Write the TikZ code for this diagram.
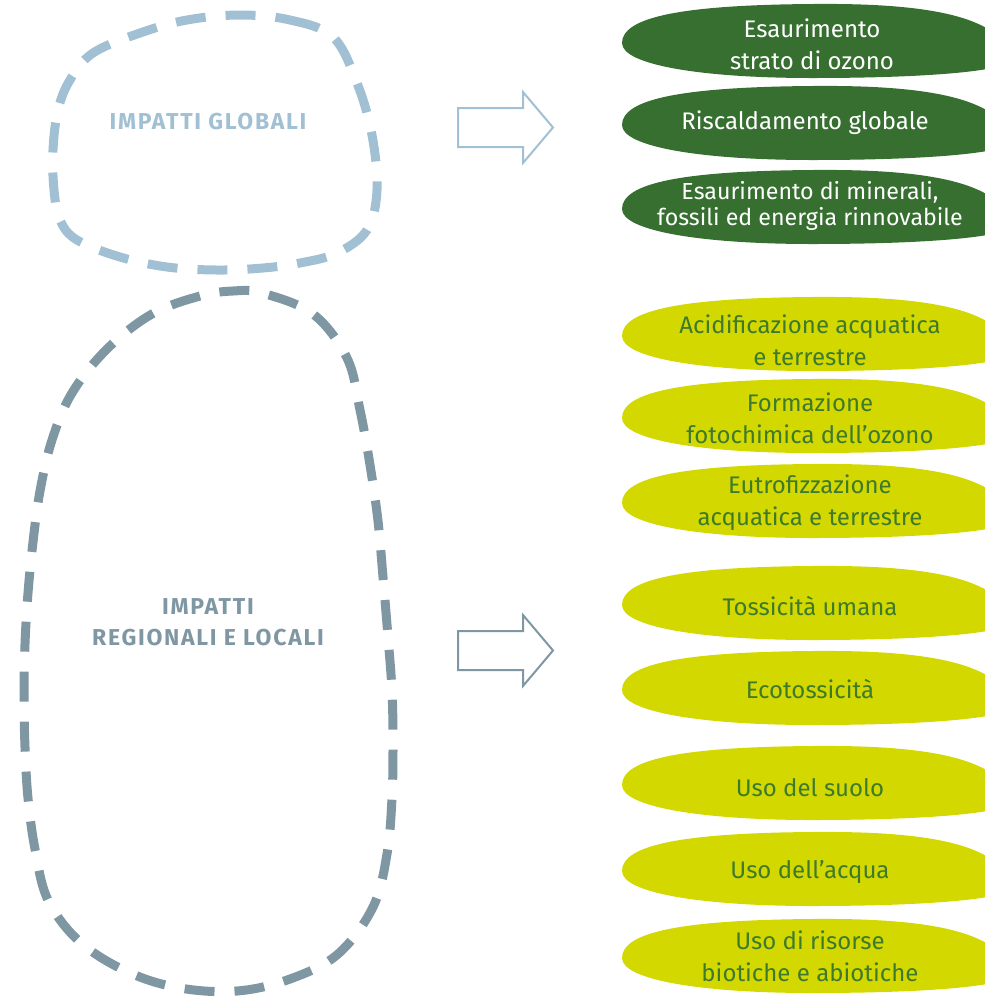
\documentclass[tikz,border=0pt]{standalone}
\usepackage{fontspec}
\setmainfont{Fira Sans}
\newfontfamily\titlefont[LetterSpace=7.5]{Fira Sans}
\definecolor{globblue}{HTML}{A2C0D4}
\definecolor{regblue}{HTML}{7F97A3}
\definecolor{darkleaf}{HTML}{376F31}
\definecolor{lightleaf}{HTML}{D3D800}
\definecolor{leaftxt}{HTML}{3E7A2C}
\newcommand\myleafpath{(0,0) .. controls (0,-26) and (60,-38) .. (190,-39) .. controls (290,-40) and (345,-30) .. (372,-10) .. controls (392,5) and (392,18) .. (375,24) .. controls (350,30) and (290,35) .. (190,35) .. controls (80,35) and (0,22) .. cycle}
\newcommand\myleaf[2]{\begin{scope}[shift={(622,#1)}]\fill[#2] \myleafpath;\end{scope}}
\tikzset{
  blobline/.style={line width=9pt, dash pattern=on 30pt off 20pt},
  bigarrow/.style={line width=2pt, line join=miter},
  leaftext/.style={align=center, inner sep=0pt, font=\fontsize{24}{32}\selectfont},
  titletext/.style={align=center, inner sep=0pt, font=\titlefont\bfseries\fontsize{23}{31}\selectfont},
}
\begin{document}
\begin{tikzpicture}[x=1pt,y=-1pt]
\useasboundingbox (0,0) rectangle (985,997);
% global blob
\draw[blobline, globblue] plot[smooth cycle, tension=0.6] coordinates {
 (240,15) (290,20) (333,37) (357,83) (372,135) (377,190) (367,230) (337,253) (300,263) (263,268) (217,270) (167,267) (120,257) (77,240) (60,220) (54,190) (53,150) (58,110) (70,80) (93,53) (140,33) (187,20)};
% regional blob
\draw[blobline, regblue] plot[smooth cycle, tension=0.6] coordinates {
 (233,291) (200,296) (152,314) (107,349) (72,393) (52,440) (40,491) (33,542) (28,593) (25,644) (24,695) (25,747) (28,798) (35,849) (48,900) (80,942) (128,972) (180,988) (237,991) (290,979) (338,954) (373,907) (387,854) (392,798) (393,744) (392,691) (388,637) (383,577) (378,521) (370,465) (360,410) (347,358) (313,314) (262,293)};
\node[titletext, text=globblue] (glob) at (208,122) {IMPATTI GLOBALI};
\node[titletext, text=regblue] (reg) at (208,622) {IMPATTI\\REGIONALI E LOCALI};
% arrows
\draw[bigarrow, globblue] (458,108) -- (523,108) -- (523,92) -- (553,127.5) -- (523,163) -- (523,147) -- (458,147) -- cycle;
\draw[bigarrow, regblue] (458,631) -- (523,631) -- (523,615) -- (553,650.5) -- (523,686) -- (523,670) -- (458,670) -- cycle;
% leaves
\begin{scope}
\clip (0,0) rectangle (985,997);
\myleaf{43}{darkleaf}
\myleaf{125}{darkleaf}
\myleaf{209}{darkleaf}
\myleaf{336}{lightleaf}
\myleaf{418}{lightleaf}
\myleaf{503}{lightleaf}
\myleaf{605}{lightleaf}
\myleaf{690}{lightleaf}
\myleaf{785}{lightleaf}
\myleaf{871}{lightleaf}
\myleaf{958}{lightleaf}
\end{scope}
\node[leaftext, text=white] (l1) at (812,44) {Esaurimento\\strato di ozono};
\node[leaftext, text=white] (l2) at (805,123) {Riscaldamento globale};
\node[leaftext, text=white, font=\fontsize{23.2}{26}\selectfont] (l3) at (810,206) {Esaurimento di minerali,\\fossili ed energia rinnovabile};
\node[leaftext, text=leaftxt] (l4) at (810,340) {Acidificazione acquatica\\e terrestre};
\node[leaftext, text=leaftxt] (l5) at (810,418) {Formazione\\fotochimica dell’ozono};
\node[leaftext, text=leaftxt] (l6) at (810,503) {Eutrofizzazione\\acquatica e terrestre};
\node[leaftext, text=leaftxt] (l7) at (810,606) {Tossicità umana};
\node[leaftext, text=leaftxt] (l8) at (810,689) {Ecotossicità};
\node[leaftext, text=leaftxt] (l9) at (810,788) {Uso del suolo};
\node[leaftext, text=leaftxt] (l10) at (810,872) {Uso dell’acqua};
\node[leaftext, text=leaftxt] (l11) at (810,956) {Uso di risorse\\biotiche e abiotiche};
\end{tikzpicture}
\end{document}
